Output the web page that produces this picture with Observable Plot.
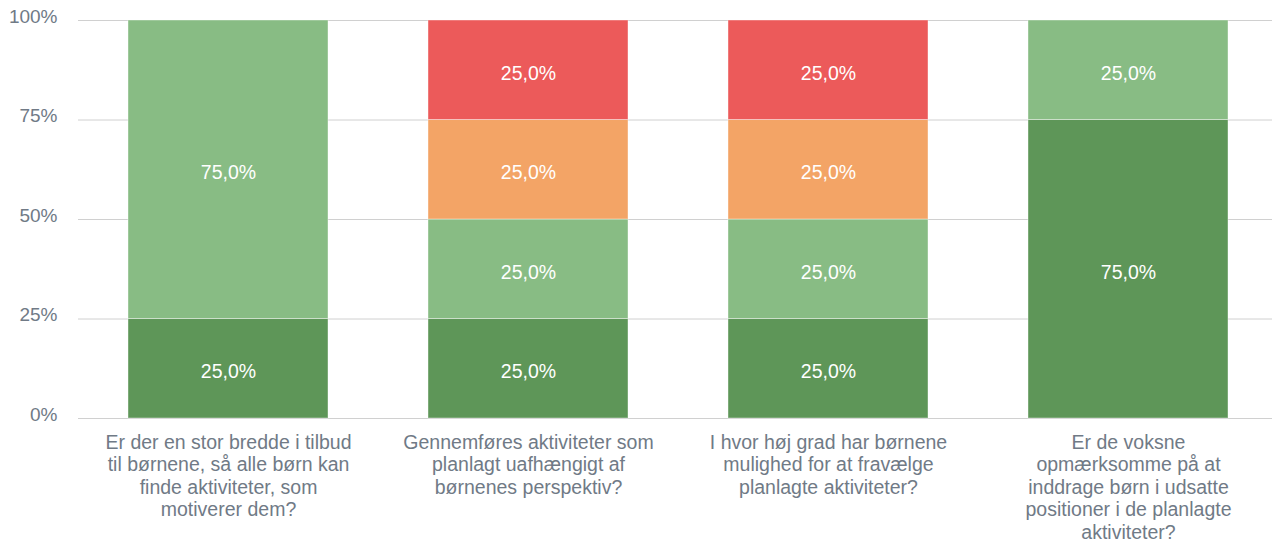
<!DOCTYPE html>
<html>
<head>
<meta charset="utf-8">
<script src="https://cdn.jsdelivr.net/npm/d3@7"></script>
<script src="https://cdn.jsdelivr.net/npm/@observablehq/plot@0.6"></script>
<style>
  html, body { margin: 0; padding: 0; background: #fff; }
  #chart { width: 1272px; height: 544px; }
</style>
</head>
<body>
<div id="chart"></div>
<script>
const questions = [
  "Er der en stor bredde i tilbud til børnene, så alle børn kan finde aktiviteter, som motiverer dem?",
  "Gennemføres aktiviteter som planlagt uafhængigt af børnenes perspektiv?",
  "I hvor høj grad har børnene mulighed for at fravælge planlagte aktiviteter?",
  "Er de voksne opmærksomme på at inddrage børn i udsatte positioner i de planlagte aktiviteter?"
];
const questionLines = [
  "Er der en stor bredde i tilbud\ntil børnene, så alle børn kan\nfinde aktiviteter, som\nmotiverer dem?",
  "Gennemføres aktiviteter som\nplanlagt uafhængigt af\nbørnenes perspektiv?",
  "I hvor høj grad har børnene\nmulighed for at fravælge\nplanlagte aktiviteter?",
  "Er de voksne\nopmærksomme på at\ninddrage børn i udsatte\npositioner i de planlagte\naktiviteter?"
];
const seriesNames = ["I høj grad", "I nogen grad", "I mindre grad", "Slet ikke"];
const seriesColors = ["#5e9658", "#88bc84", "#f3a466", "#ec5a5a"];
const valuesHoej = [25, 25, 25, 75];
const valuesNogen = [75, 25, 25, 25];
const valuesMindre = [0, 25, 25, 0];
const valuesSlet = [0, 25, 25, 0];
const yTicks = [0, 25, 50, 75, 100];

const seriesValues = [valuesHoej, valuesNogen, valuesMindre, valuesSlet];
const data = [];
seriesNames.forEach((s, si) => {
  questions.forEach((q, qi) => {
    data.push({question: q, series: s, value: seriesValues[si][qi]});
  });
});
const labelOf = new Map(questions.map((q, i) => [q, questionLines[i]]));
const fmt = v => v.toFixed(1).replace(".", ",") + "%";
const textColor = "#707a86";

const chart = Plot.plot({
  width: 1272,
  height: 544,
  marginLeft: 78,
  marginRight: 0,
  marginTop: 20,
  marginBottom: 126,
  style: {fontFamily: "'Liberation Sans', Arial, sans-serif", fontSize: "19px", color: textColor, background: "#fff", overflow: "visible"},
  x: {domain: questions, range: [78, 1278], padding: 1/3, paddingOuter: 1/6, label: null},
  y: {domain: [0, 100], label: null},
  color: {domain: seriesNames, range: seriesColors},
  marks: [
    Plot.ruleY(yTicks, {stroke: "#d0d0d0", strokeWidth: 1}),
    Plot.barY(data, Plot.stackY({
      x: "question", y: "value", fill: "series", order: seriesNames,
      stroke: "white", strokeOpacity: 0.4, strokeWidth: 1
    })),
    Plot.text(data.filter(d => d.value > 0), Plot.stackY({
      x: "question", y: "value", z: "series", order: seriesNames,
      text: d => fmt(d.value), fill: "white", fontSize: 19.5, dy: 3
    })),
    Plot.axisY({ticks: yTicks, tickFormat: d => d + "%", tickSize: 0, tickPadding: 21, fontSize: 19, dy: -4, fill: textColor}),
    Plot.axisX({tickSize: 0, tickPadding: 14, fontSize: 19.5, lineHeight: 1.16, tickFormat: q => labelOf.get(q), fill: textColor, textAnchor: "middle"})
  ]
});
document.getElementById("chart").appendChild(chart);
</script>
</body>
</html>
